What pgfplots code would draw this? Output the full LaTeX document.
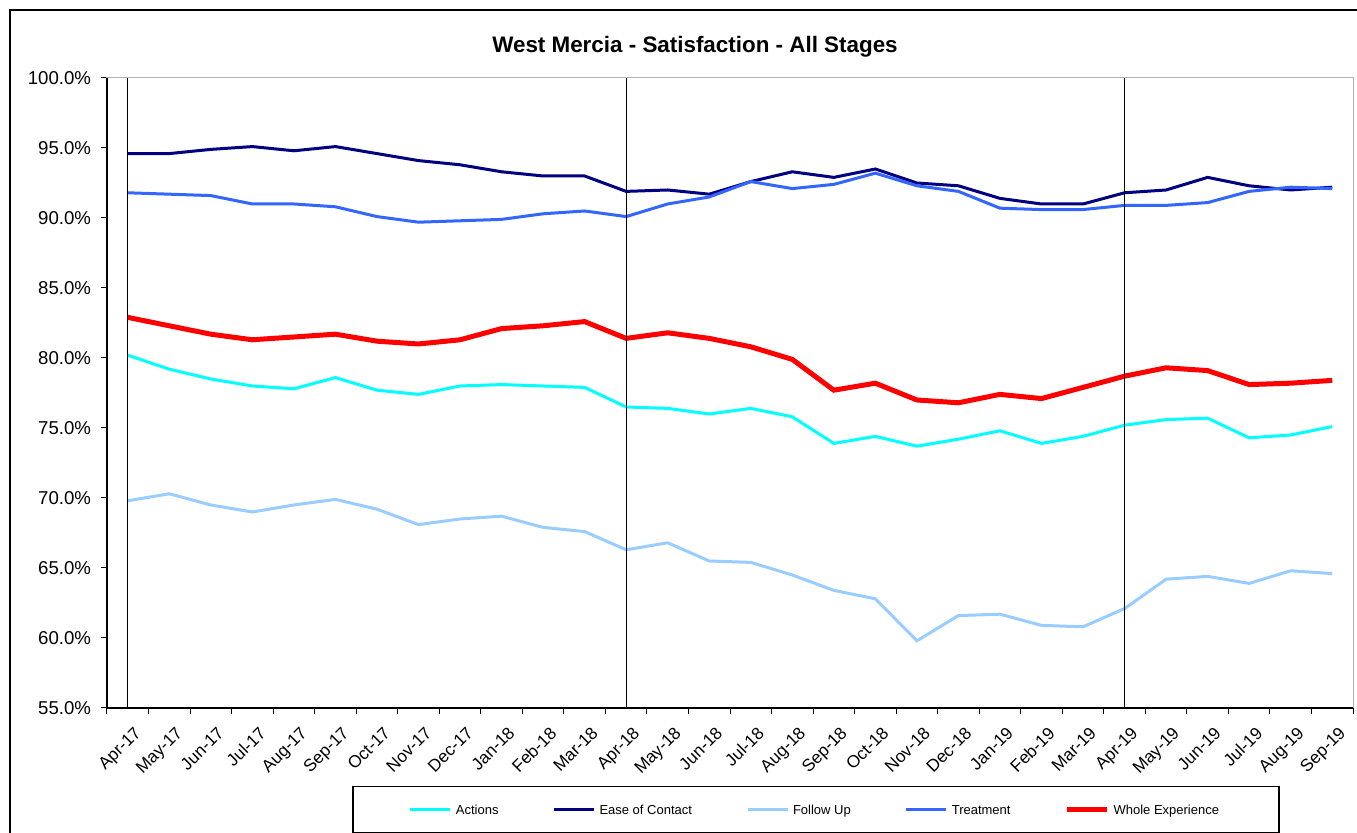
\documentclass[border=0pt]{standalone}
\usepackage{fontspec}
\setmainfont{Liberation Sans}
\usepackage{pgfplots}
\usepackage{pgfplotstable}
\pgfplotsset{compat=1.18}
\definecolor{cAct}{HTML}{00FFFF}
\definecolor{cEase}{HTML}{000080}
\definecolor{cFol}{HTML}{99CCFF}
\definecolor{cTreat}{HTML}{3366FF}
\definecolor{cWhole}{HTML}{FF0000}
\pgfplotstableread{
x act ease fol treat whole
0 80.2 94.6 69.8 91.8 82.9
1 79.2 94.6 70.3 91.7 82.3
2 78.5 94.9 69.5 91.6 81.7
3 78.0 95.1 69.0 91.0 81.3
4 77.8 94.8 69.5 91.0 81.5
5 78.6 95.1 69.9 90.8 81.7
6 77.7 94.6 69.2 90.1 81.2
7 77.4 94.1 68.1 89.7 81.0
8 78.0 93.8 68.5 89.8 81.3
9 78.1 93.3 68.7 89.9 82.1
10 78.0 93.0 67.9 90.3 82.3
11 77.9 93.0 67.6 90.5 82.6
12 76.5 91.9 66.3 90.1 81.4
13 76.4 92.0 66.8 91.0 81.8
14 76.0 91.7 65.5 91.5 81.4
15 76.4 92.6 65.4 92.6 80.8
16 75.8 93.3 64.5 92.1 79.9
17 73.9 92.9 63.4 92.4 77.7
18 74.4 93.5 62.8 93.2 78.2
19 73.7 92.5 59.8 92.3 77.0
20 74.2 92.3 61.6 91.9 76.8
21 74.8 91.4 61.7 90.7 77.4
22 73.9 91.0 60.9 90.6 77.1
23 74.4 91.0 60.8 90.6 77.9
24 75.2 91.8 62.1 90.9 78.7
25 75.6 92.0 64.2 90.9 79.3
26 75.7 92.9 64.4 91.1 79.1
27 74.3 92.3 63.9 91.9 78.1
28 74.5 92.0 64.8 92.2 78.2
29 75.1 92.2 64.6 92.1 78.4
}\data
\begin{document}
\begin{tikzpicture}
\path[use as bounding box] (0,0) rectangle (678.5pt,416.5pt);
\clip (0,0) rectangle (678.5pt,416.5pt);
\draw[black, line width=0.75pt] (5pt,-10pt) -- (5pt,411.5pt) -- (690pt,411.5pt);
\node[font=\bfseries\fontsize{11.2}{13}\selectfont] at (347.5pt,393pt) {West Mercia - Satisfaction - All Stages};
\begin{axis}[
  at={(53.5pt,62.5pt)}, anchor=south west,
  scale only axis, width=623pt, height=315pt,
  clip=false,
  xmin=-0.5, xmax=29.5, ymin=55, ymax=100,
  axis line style={draw=gray!60, line width=0.5pt},
  ytick={55,60,...,100},
  yticklabel={\pgfmathprintnumber[fixed,fixed zerofill,precision=1]{\tick}\%},
  /pgf/number format/assume math mode=true,
  yticklabel style={font=\fontsize{9.3}{11}\selectfont, anchor=east, xshift=-1.5pt},
  xtick={0,...,29},
  xticklabels={Apr-17,May-17,Jun-17,Jul-17,Aug-17,Sep-17,Oct-17,Nov-17,Dec-17,Jan-18,Feb-18,Mar-18,Apr-18,May-18,Jun-18,Jul-18,Aug-18,Sep-18,Oct-18,Nov-18,Dec-18,Jan-19,Feb-19,Mar-19,Apr-19,May-19,Jun-19,Jul-19,Aug-19,Sep-19},
  xticklabel style={font=\fontsize{8.6}{10}\selectfont, rotate=45, anchor=north east, inner sep=1pt, xshift=-1pt, yshift=-5pt},
  every major x tick/.append style={draw=none},
  minor xtick={-0.5,0.5,...,29.5},
  tick align=outside, tick pos=left,
  major tick length=3pt, minor tick length=3pt,
  tick style={black, line width=0.5pt},
  legend columns=5,
  legend image code/.code={\draw[#1] (0pt,0pt) -- (20pt,0pt);},
  legend style={at={(0.569,-0.1616)}, anchor=center, draw=black, line width=0.75pt,
    font=\fontsize{6.5}{8}\selectfont, inner xsep=28pt, inner ysep=5pt,
    nodes={text depth=0.2em, text height=0.72em},
    /tikz/every even column/.append style={column sep=25pt}},
  legend cell align=left,
]
\addplot[cAct, line width=1.5pt] table[x=x,y=act] {\data};
\addlegendentry{Actions}
\addplot[cEase, line width=1.5pt] table[x=x,y=ease] {\data};
\addlegendentry{Ease of Contact}
\addplot[cFol, line width=1.5pt] table[x=x,y=fol] {\data};
\addlegendentry{Follow Up}
\addplot[cTreat, line width=1.5pt] table[x=x,y=treat] {\data};
\addlegendentry{Treatment}
\addplot[cWhole, line width=2.5pt] table[x=x,y=whole] {\data};
\addlegendentry{Whole Experience}
\addplot[black, line width=0.5pt, forget plot] coordinates {(0,55) (0,100)};
\addplot[black, line width=0.5pt, forget plot] coordinates {(12,55) (12,100)};
\addplot[black, line width=0.5pt, forget plot] coordinates {(24,55) (24,100)};
\draw[black, line width=0.75pt] (rel axis cs:0,1) -- (rel axis cs:0,0) -- (rel axis cs:1,0);
\end{axis}
\end{tikzpicture}
\end{document}
